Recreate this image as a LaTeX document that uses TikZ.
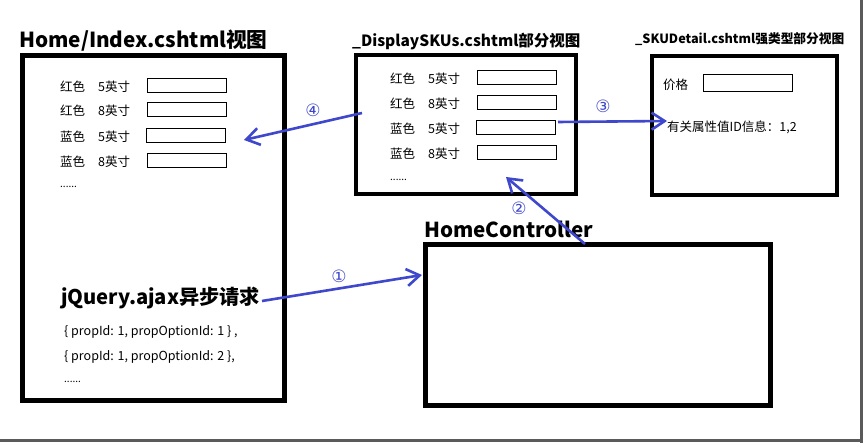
\documentclass[tikz,border=0pt]{standalone}
\usepackage{fontspec}
\setmainfont{Noto Sans CJK SC}
\newfontfamily\circfont{DejaVu Sans}
\usetikzlibrary{arrows.meta}
\definecolor{arrblue}{RGB}{63,72,204}
\definecolor{shadow}{RGB}{90,90,90}
\tikzset{
  bigbox/.style={draw=black, inner sep=0pt, outer sep=0pt},
  inbox/.style={draw=black, line width=1pt, inner sep=0pt, minimum width=79pt, minimum height=14pt},
  rowtxt/.style={anchor=west, inner sep=0pt, font=\fontsize{12.5pt}{14pt}\selectfont},
  ttl/.style={anchor=west, inner sep=0pt, font=\bfseries},
  arr/.style={draw=arrblue, line width=2.6pt, -{Straight Barb[length=13pt,width=17pt]}},
  num/.style={text=arrblue, inner sep=0pt, font=\circfont\fontsize{17pt}{18pt}\selectfont},
}
\begin{document}
\begin{tikzpicture}[x=1pt,y=-1pt]
\useasboundingbox (0,0) rectangle (863,443);
\fill[white] (0,0) rectangle (863,443);
% shadow frame
\draw[shadow, line width=3pt] (861.5,0) -- (861.5,443);
\draw[shadow, line width=3pt] (0,440.5) -- (863,440.5);

% Home/Index box
\node[ttl, font=\bfseries\fontsize{20.7pt}{24pt}\selectfont] (hometitle) at (19,41) {Home/Index.cshtml视图};
\node[bigbox, line width=5pt, minimum width=262pt, minimum height=345pt] (home) at (153.5,228) {};
\foreach \y/\c/\s/\n/\bx in {87/红色/5英寸/a/186.5, 111/红色/8英寸/b/186.5, 137/蓝色/5英寸/c/185.5, 162/蓝色/8英寸/d/186.5}{
  \node[rowtxt] (hc\n) at (60,\y) {\c};
  \node[rowtxt] (hs\n) at (98,\y) {\s};
  \node[inbox] (hb\n) at (\bx,\y-1) {};
}
\node[rowtxt, font=\fontsize{10pt}{12pt}\selectfont] (hdots) at (60,187) {......};
\node[ttl, font=\bfseries\fontsize{20.2pt}{24pt}\selectfont] (jq) at (61,298) {jQuery.ajax异步请求};
\node[rowtxt] (p1) at (64,332) {\{ propId: 1, propOptionId: 1 \} ,};
\node[rowtxt] (p2) at (64,357) {\{ propId: 1, propOptionId: 2 \},};
\node[rowtxt, font=\fontsize{10pt}{12pt}\selectfont] (p3) at (64,382) {......};

% DisplaySKUs box
\node[ttl, font=\bfseries\fontsize{15.5pt}{18pt}\selectfont] (dtitle) at (352,41) {\_DisplaySKUs.cshtml部分视图};
\node[bigbox, line width=4pt, minimum width=220pt, minimum height=139pt] (disp) at (465.5,124.5) {};
\foreach \y/\c/\s/\n/\bx in {79/红色/5英寸/a/516.5, 104/红色/8英寸/b/516.5, 129/蓝色/5英寸/c/515.5, 154/蓝色/8英寸/d/516.5}{
  \node[rowtxt] (dc\n) at (390,\y) {\c};
  \node[rowtxt] (ds\n) at (428,\y) {\s};
  \node[inbox] (db\n) at (\bx,\y-1) {};
}
\node[rowtxt, font=\fontsize{10pt}{12pt}\selectfont] (ddots) at (390,180) {......};

% SKUDetail box
\node[ttl, font=\bfseries\fontsize{12.7pt}{15pt}\selectfont] (stitle) at (635,39) {\_SKUDetail.cshtml强类型部分视图};
\node[bigbox, line width=4pt, minimum width=185pt, minimum height=139pt] (sku) at (744.5,125.5) {};
\node[rowtxt] (price) at (663,85) {价格};
\node[inbox, minimum width=89pt, minimum height=17pt] (pbox) at (747.5,83.5) {};
\node[rowtxt] (info) at (667,127) {有关属性值ID信息：1,2};

% HomeController box
\node[ttl, font=\bfseries\fontsize{20.6pt}{22pt}\selectfont] (ctitle) at (424,229) {HomeController};
\node[bigbox, line width=5pt, minimum width=345.5pt, minimum height=161pt] (ctrl) at (597.75,325) {};

% connector ends
\coordinate (a1s) at (262,301);
\coordinate (a1e) at (422,275);
\coordinate (a2s) at (585,244);
\coordinate (a2e) at (506,177);
\coordinate (a3s) at (558,122);
\coordinate (a3e) at (667,121);
\coordinate (a4s) at (362,113);
\coordinate (a4e) at (244,140);

\draw[arr] (a1s) -- (a1e);
\draw[arr] (a2s) -- (a2e);
\draw[arr] (a3s) -- (a3e);
\draw[arr] (a4s) -- (a4e);

\node[num] (n1) at (339,276) {①};
\node[num] (n2) at (519,208) {②};
\node[num] (n3) at (603,106) {③};
\node[num] (n4) at (313,110) {④};
\end{tikzpicture}
\end{document}
